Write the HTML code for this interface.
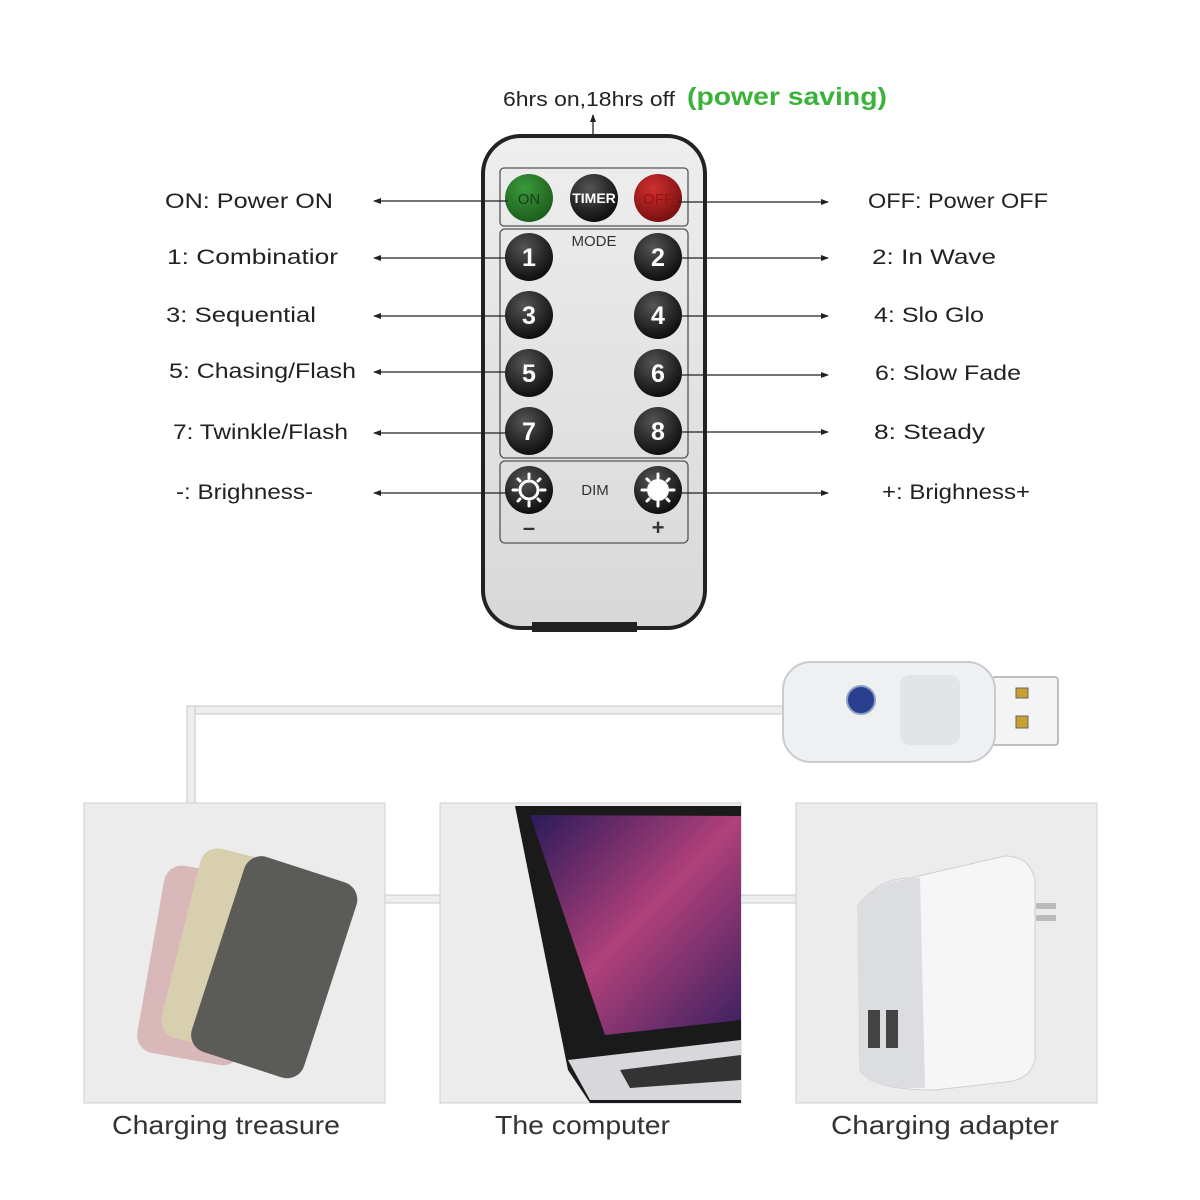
<!DOCTYPE html>
<html><head><meta charset="utf-8"><style>
html,body{margin:0;padding:0;background:#fff;}
svg{display:block;}
.lbl{font-family:"Liberation Sans",sans-serif;font-size:21px;fill:#222;}
.bt{font-family:"Liberation Sans",sans-serif;font-weight:bold;fill:#fff;text-anchor:middle;}
.cap{font-family:"Liberation Sans",sans-serif;font-size:26px;fill:#333;}
</style></head><body>
<svg width="1200" height="1200" viewBox="0 0 1200 1200" xmlns="http://www.w3.org/2000/svg">
<defs>
<marker id="ar" markerWidth="8" markerHeight="8" refX="7" refY="4" orient="auto" markerUnits="userSpaceOnUse"><path d="M0,1 L8,4 L0,7 Z" fill="#222"/></marker>
<radialGradient id="gb" cx="0.4" cy="0.3" r="0.7"><stop offset="0" stop-color="#555"/><stop offset="1" stop-color="#0e0e0e"/></radialGradient>
<radialGradient id="gg" cx="0.4" cy="0.3" r="0.7"><stop offset="0" stop-color="#3a9a3a"/><stop offset="1" stop-color="#1d5e1d"/></radialGradient>
<radialGradient id="gr" cx="0.4" cy="0.3" r="0.7"><stop offset="0" stop-color="#d03030"/><stop offset="1" stop-color="#7a1010"/></radialGradient>
<linearGradient id="rb" x1="0" y1="0" x2="0" y2="1"><stop offset="0" stop-color="#eeeeee"/><stop offset="1" stop-color="#d8d8d8"/></linearGradient>
<linearGradient id="scr" x1="0" y1="0" x2="1" y2="1"><stop offset="0" stop-color="#2a1a5a"/><stop offset="0.5" stop-color="#b0407a"/><stop offset="1" stop-color="#3a2060"/></linearGradient>
</defs>

<text x="503" y="106" class="lbl" style="font-size:20px" textLength="172" lengthAdjust="spacingAndGlyphs">6hrs on,18hrs off</text>
<text x="687" y="105" textLength="200" lengthAdjust="spacingAndGlyphs" style="font-family:'Liberation Sans',sans-serif;font-weight:bold;font-size:25px;fill:#3bb33b">(power saving)</text>
<line x1="593" y1="174" x2="593" y2="115" stroke="#222" stroke-width="1.3" marker-end="url(#ar)"/>

<rect x="483" y="136" width="222" height="492" rx="38" fill="url(#rb)" stroke="#222" stroke-width="4"/>
<rect x="532" y="622" width="105" height="10" fill="#222"/>
<rect x="500" y="168" width="188" height="58" rx="4" fill="none" stroke="#555" stroke-width="1.3"/>
<rect x="500" y="229" width="188" height="229" rx="5" fill="none" stroke="#555" stroke-width="1.3"/>
<rect x="500" y="461" width="188" height="82" rx="5" fill="none" stroke="#555" stroke-width="1.3"/>
<text x="594" y="246" style="font-family:'Liberation Sans',sans-serif;font-size:15px;fill:#333;text-anchor:middle">MODE</text>
<text x="595" y="495" style="font-family:'Liberation Sans',sans-serif;font-size:15px;fill:#333;text-anchor:middle">DIM</text>
<text x="529" y="535" style="font-family:'Liberation Sans',sans-serif;font-size:22px;font-weight:bold;fill:#333;text-anchor:middle">–</text>
<text x="658" y="535" style="font-family:'Liberation Sans',sans-serif;font-size:22px;font-weight:bold;fill:#333;text-anchor:middle">+</text>

<circle cx="529" cy="198" r="24" fill="url(#gg)"/>
<text x="529" y="204" class="bt" style="font-size:15px;fill:#1a3a1a;font-weight:normal">ON</text>
<circle cx="594" cy="198" r="24" fill="url(#gb)"/>
<text x="594" y="203" class="bt" style="font-size:14px">TIMER</text>
<circle cx="658" cy="198" r="24" fill="url(#gr)"/>
<text x="658" y="204" class="bt" style="font-size:15px;fill:#9a1010;font-weight:normal">OFF</text>

<g>
<circle cx="529" cy="257" r="24" fill="url(#gb)"/><text x="529" y="266" class="bt" style="font-size:25px">1</text>
<circle cx="658" cy="257" r="24" fill="url(#gb)"/><text x="658" y="266" class="bt" style="font-size:25px">2</text>
<circle cx="529" cy="315" r="24" fill="url(#gb)"/><text x="529" y="324" class="bt" style="font-size:25px">3</text>
<circle cx="658" cy="315" r="24" fill="url(#gb)"/><text x="658" y="324" class="bt" style="font-size:25px">4</text>
<circle cx="529" cy="373" r="24" fill="url(#gb)"/><text x="529" y="382" class="bt" style="font-size:25px">5</text>
<circle cx="658" cy="373" r="24" fill="url(#gb)"/><text x="658" y="382" class="bt" style="font-size:25px">6</text>
<circle cx="529" cy="431" r="24" fill="url(#gb)"/><text x="529" y="440" class="bt" style="font-size:25px">7</text>
<circle cx="658" cy="431" r="24" fill="url(#gb)"/><text x="658" y="440" class="bt" style="font-size:25px">8</text>
<circle cx="529" cy="490" r="24" fill="url(#gb)"/>
<circle cx="529" cy="490" r="9" fill="none" stroke="#fff" stroke-width="3"/>
<g stroke="#fff" stroke-width="3" stroke-linecap="round">
<line x1="529" y1="474" x2="529" y2="478"/><line x1="529" y1="502" x2="529" y2="506"/>
<line x1="513" y1="490" x2="517" y2="490"/><line x1="541" y1="490" x2="545" y2="490"/>
<line x1="518" y1="479" x2="520" y2="481"/><line x1="538" y1="499" x2="540" y2="501"/>
<line x1="540" y1="479" x2="538" y2="481"/><line x1="518" y1="501" x2="520" y2="499"/>
</g>
<circle cx="658" cy="490" r="24" fill="url(#gb)"/>
<circle cx="658" cy="490" r="11" fill="#fff"/>
<g stroke="#fff" stroke-width="3" stroke-linecap="round">
<line x1="658" y1="474" x2="658" y2="478"/><line x1="658" y1="502" x2="658" y2="506"/>
<line x1="642" y1="490" x2="646" y2="490"/><line x1="670" y1="490" x2="674" y2="490"/>
<line x1="647" y1="479" x2="649" y2="481"/><line x1="667" y1="499" x2="669" y2="501"/>
<line x1="669" y1="479" x2="667" y2="481"/><line x1="647" y1="501" x2="649" y2="499"/>
</g>
</g>

<g stroke="#222" stroke-width="1.3" marker-end="url(#ar)">
<line x1="508" y1="201" x2="374" y2="201"/>
<line x1="508" y1="258" x2="374" y2="258"/>
<line x1="508" y1="316" x2="374" y2="316"/>
<line x1="508" y1="372" x2="374" y2="372"/>
<line x1="508" y1="433" x2="374" y2="433"/>
<line x1="508" y1="493" x2="374" y2="493"/>
<line x1="678" y1="202" x2="828" y2="202"/>
<line x1="678" y1="258" x2="828" y2="258"/>
<line x1="678" y1="316" x2="828" y2="316"/>
<line x1="678" y1="375" x2="828" y2="375"/>
<line x1="678" y1="432" x2="828" y2="432"/>
<line x1="678" y1="493" x2="828" y2="493"/>
</g>

<g lengthAdjust="spacingAndGlyphs">
<text x="165" y="208" class="lbl" textLength="168" lengthAdjust="spacingAndGlyphs">ON:  Power ON</text>
<text x="167" y="264" class="lbl" textLength="171" lengthAdjust="spacingAndGlyphs">1:  Combinatior</text>
<text x="166" y="322" class="lbl" textLength="150" lengthAdjust="spacingAndGlyphs">3:  Sequential</text>
<text x="169" y="378" class="lbl" textLength="187" lengthAdjust="spacingAndGlyphs">5:  Chasing/Flash</text>
<text x="173" y="439" class="lbl" textLength="175" lengthAdjust="spacingAndGlyphs">7:  Twinkle/Flash</text>
<text x="176" y="499" class="lbl" textLength="137" lengthAdjust="spacingAndGlyphs">-:  Brighness-</text>
<text x="868" y="208" class="lbl" textLength="180" lengthAdjust="spacingAndGlyphs">OFF:  Power OFF</text>
<text x="872" y="264" class="lbl" textLength="124" lengthAdjust="spacingAndGlyphs">2:  In Wave</text>
<text x="874" y="322" class="lbl" textLength="110" lengthAdjust="spacingAndGlyphs">4:  Slo Glo</text>
<text x="875" y="380" class="lbl" textLength="146" lengthAdjust="spacingAndGlyphs">6:  Slow Fade</text>
<text x="874" y="439" class="lbl" textLength="111" lengthAdjust="spacingAndGlyphs">8:  Steady</text>
<text x="882" y="499" class="lbl" textLength="148" lengthAdjust="spacingAndGlyphs">+:  Brighness+</text>
</g>

<g fill="#eeeeee" stroke="#c8c8c8" stroke-width="1">
<rect x="187" y="706" width="600" height="8"/>
<rect x="187" y="706" width="8" height="98"/>
<rect x="384" y="895" width="58" height="8"/>
<rect x="740" y="895" width="57" height="8"/>
</g>
<rect x="992" y="677" width="66" height="68" rx="3" fill="#f4f4f4" stroke="#aaa" stroke-width="1.5"/>
<rect x="1016" y="688" width="12" height="10" fill="#c8a030" stroke="#666"/>
<rect x="1016" y="716" width="12" height="12" fill="#c8a030" stroke="#666"/>
<rect x="783" y="662" width="212" height="100" rx="28" fill="#eef0f2" stroke="#c8ccd0" stroke-width="2"/>
<rect x="900" y="675" width="60" height="70" rx="10" fill="#e2e4e6"/>
<circle cx="861" cy="700" r="14" fill="#2a3f8f" stroke="#8aa0c8" stroke-width="2"/>

<rect x="84" y="803" width="301" height="300" fill="#ececec" stroke="#cfcfcf"/>
<rect x="440" y="803" width="301" height="300" fill="#ececec" stroke="#cfcfcf"/>
<rect x="796" y="803" width="301" height="300" fill="#ececec" stroke="#cfcfcf"/>

<g>
<rect x="150" y="870" width="105" height="190" rx="18" fill="#d8b8b8" transform="rotate(10 200 965)"/>
<rect x="180" y="855" width="110" height="195" rx="18" fill="#d8cfae" transform="rotate(14 235 950)"/>
<rect x="215" y="865" width="118" height="205" rx="18" fill="#5b5b58" transform="rotate(18 275 968)"/>
</g>

<path d="M515 806 L741 806 L741 1103 L590 1103 L568 1070 Z" fill="#1a1a1a"/>
<path d="M530 815 L741 816 L741 1020 L605 1035 Z" fill="url(#scr)"/>
<path d="M568 1060 L741 1040 L741 1100 L590 1100 Z" fill="#d8d8dc"/>
<path d="M620 1070 L741 1055 L741 1080 L630 1088 Z" fill="#333"/>

<path d="M858 905 Q880 878 910 878 L1005 856 Q1030 856 1035 880 L1035 1060 Q1030 1080 1005 1082 L935 1090 Q870 1090 860 1070 Z" fill="#f6f6f6" stroke="#d0d0d0"/>
<path d="M858 905 Q880 878 920 878 L925 1088 Q870 1090 860 1070 Z" fill="#dcdde0"/>
<rect x="1036" y="903" width="20" height="6" fill="#bbb"/>
<rect x="1036" y="915" width="20" height="6" fill="#bbb"/>
<rect x="868" y="1010" width="12" height="38" fill="#444"/>
<rect x="886" y="1010" width="12" height="38" fill="#444"/>

<text x="112" y="1134" class="cap" textLength="228" lengthAdjust="spacingAndGlyphs">Charging treasure</text>
<text x="495" y="1134" class="cap" textLength="175" lengthAdjust="spacingAndGlyphs">The computer</text>
<text x="831" y="1134" class="cap" textLength="228" lengthAdjust="spacingAndGlyphs">Charging adapter</text>
</svg>
</body></html>
